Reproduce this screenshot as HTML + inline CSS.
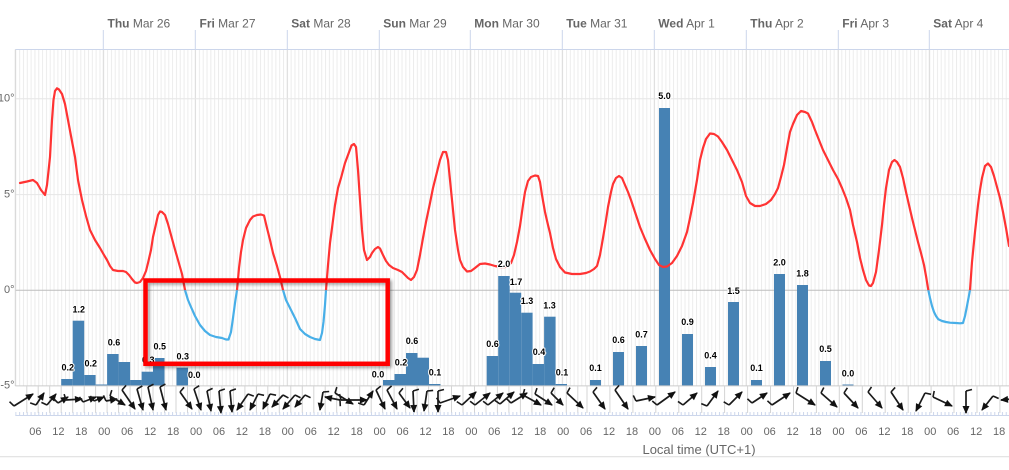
<!DOCTYPE html>
<html>
<head>
<meta charset="utf-8">
<style>
html,body{margin:0;padding:0;background:#fff;}
svg{display:block;}
.hl{font-family:"Liberation Sans",sans-serif;font-size:11px;fill:#666;text-anchor:middle;}
.dl{font-family:"Liberation Sans",sans-serif;font-size:12px;fill:#666;}
.dl tspan.b{font-weight:bold;}
.yl{font-family:"Liberation Sans",sans-serif;font-size:11px;fill:#666;text-anchor:end;}
.bl{font-family:"Liberation Sans",sans-serif;font-size:9px;font-weight:bold;fill:#000;text-anchor:middle;stroke:#fff;stroke-width:2px;paint-order:stroke;stroke-linejoin:round;}
.w line{stroke:#1a1a1a;stroke-width:1.7;marker-end:url(#ah);marker-start:url(#fe);}
</style>
</head>
<body>
<svg width="1009" height="470" viewBox="0 0 1009 470" xmlns="http://www.w3.org/2000/svg">
<defs>
  <pattern id="hg" patternUnits="userSpaceOnUse" x="11.5" y="0" width="3.824" height="10">
    <rect x="0" y="0" width="1" height="10" fill="#ececec"/>
  </pattern>
  <pattern id="tk" patternUnits="userSpaceOnUse" x="11.5" y="0" width="3.824" height="10">
    <rect x="0" y="0" width="1" height="10" fill="#ccd6eb"/>
  </pattern>
  <clipPath id="above"><rect x="0" y="0" width="1009" height="290.3"/></clipPath>
  <clipPath id="below"><rect x="0" y="290.3" width="1009" height="200"/></clipPath>
  <marker id="ah" markerWidth="9" markerHeight="9" refX="7" refY="3.5" orient="auto" markerUnits="userSpaceOnUse" style="overflow:visible">
    <path d="M0,0 L8,3.5 L0,7 Z" fill="#111"/>
  </marker>
  <marker id="fe" markerWidth="10" markerHeight="10" refX="5" refY="8" orient="auto" markerUnits="userSpaceOnUse" style="overflow:visible">
    <path d="M5,8 L3.5,2" stroke="#1a1a1a" stroke-width="1.6" fill="none"/>
  </marker>
  <filter id="sh" x="-10%" y="-10%" width="130%" height="140%">
    <feDropShadow dx="2" dy="2" stdDeviation="1.5" flood-color="#000" flood-opacity="0.35"/>
  </filter>
</defs>

<!-- header -->
<g stroke="#ccd6eb" stroke-width="1">
  <line x1="103.3" y1="30" x2="103.3" y2="49.5"/>
  <line x1="195.3" y1="30" x2="195.3" y2="49.5"/>
  <line x1="287.3" y1="30" x2="287.3" y2="49.5"/>
  <line x1="379.3" y1="30" x2="379.3" y2="49.5"/>
  <line x1="470.3" y1="30" x2="470.3" y2="49.5"/>
  <line x1="562.3" y1="30" x2="562.3" y2="49.5"/>
  <line x1="654.3" y1="30" x2="654.3" y2="49.5"/>
  <line x1="746.3" y1="30" x2="746.3" y2="49.5"/>
  <line x1="838.3" y1="30" x2="838.3" y2="49.5"/>
  <line x1="929.3" y1="30" x2="929.3" y2="49.5"/>
</g>
<text class="dl" x="107.5" y="27.3"><tspan class="b">Thu</tspan> Mar 26</text>
<text class="dl" x="199.5" y="27.3"><tspan class="b">Fri</tspan> Mar 27</text>
<text class="dl" x="291.3" y="27.3"><tspan class="b">Sat</tspan> Mar 28</text>
<text class="dl" x="383.3" y="27.3"><tspan class="b">Sun</tspan> Mar 29</text>
<text class="dl" x="474.3" y="27.3"><tspan class="b">Mon</tspan> Mar 30</text>
<text class="dl" x="566.3" y="27.3"><tspan class="b">Tue</tspan> Mar 31</text>
<text class="dl" x="658.3" y="27.3"><tspan class="b">Wed</tspan> Apr 1</text>
<text class="dl" x="750.3" y="27.3"><tspan class="b">Thu</tspan> Apr 2</text>
<text class="dl" x="842.3" y="27.3"><tspan class="b">Fri</tspan> Apr 3</text>
<text class="dl" x="933.3" y="27.3"><tspan class="b">Sat</tspan> Apr 4</text>

<!-- plot area grid -->
<rect x="15.3" y="49.5" width="994" height="336.2" fill="url(#hg)"/>
<g stroke="#dcdcdc" stroke-width="1">
  <line x1="103.3" y1="49.5" x2="103.3" y2="385.7"/>
  <line x1="195.3" y1="49.5" x2="195.3" y2="385.7"/>
  <line x1="287.3" y1="49.5" x2="287.3" y2="385.7"/>
  <line x1="379.3" y1="49.5" x2="379.3" y2="385.7"/>
  <line x1="470.3" y1="49.5" x2="470.3" y2="385.7"/>
  <line x1="562.3" y1="49.5" x2="562.3" y2="385.7"/>
  <line x1="654.3" y1="49.5" x2="654.3" y2="385.7"/>
  <line x1="746.3" y1="49.5" x2="746.3" y2="385.7"/>
  <line x1="838.3" y1="49.5" x2="838.3" y2="385.7"/>
  <line x1="929.3" y1="49.5" x2="929.3" y2="385.7"/>
</g>
<line x1="15.3" y1="98.8" x2="1009" y2="98.8" stroke="#e6e6e6" stroke-width="1"/>
<line x1="15.3" y1="194.6" x2="1009" y2="194.6" stroke="#e6e6e6" stroke-width="1"/>
<line x1="15.3" y1="290.3" x2="1009" y2="290.3" stroke="#bdbdbd" stroke-width="1"/>
<line x1="15.3" y1="49.5" x2="1009" y2="49.5" stroke="#ccd6eb" stroke-width="1"/>
<line x1="15.3" y1="49.5" x2="15.3" y2="386" stroke="#d6d6d6" stroke-width="1"/>

<!-- y labels -->
<text class="yl" x="14.5" y="101.5">10°</text>
<text class="yl" x="14.5" y="197.5">5°</text>
<text class="yl" x="14.5" y="292.8">0°</text>
<text class="yl" x="14.5" y="388.5">-5°</text>

<!-- precipitation bars -->
<g fill="#4682b4">
  <rect x="61.2" y="379" width="11.5" height="6.7"/>
  <rect x="72.7" y="320.7" width="11.5" height="65"/>
  <rect x="84.2" y="375" width="11.4" height="10.7"/>
  <rect x="95.6" y="384.5" width="11.5" height="1.2"/>
  <rect x="107.1" y="354" width="11.5" height="31.7"/>
  <rect x="118.6" y="362" width="11.5" height="23.7"/>
  <rect x="130.1" y="380" width="11.5" height="5.7"/>
  <rect x="141.6" y="371.7" width="11.4" height="14"/>
  <rect x="153" y="358" width="11.5" height="27.7"/>
  <rect x="176.5" y="367.7" width="11.5" height="18"/>
  <rect x="383" y="380" width="11.5" height="5.7"/>
  <rect x="394.5" y="374" width="11.5" height="11.7"/>
  <rect x="406" y="353" width="11.5" height="32.7"/>
  <rect x="417.5" y="357.7" width="11.5" height="28"/>
  <rect x="429" y="384" width="11.5" height="1.7"/>
  <rect x="486.7" y="356" width="11.5" height="29.7"/>
  <rect x="498.2" y="276" width="11.5" height="109.7"/>
  <rect x="509.7" y="292.7" width="11.5" height="93"/>
  <rect x="521.2" y="312.7" width="11.4" height="73"/>
  <rect x="532.6" y="364" width="11.5" height="21.7"/>
  <rect x="544.1" y="316.7" width="11.5" height="69"/>
  <rect x="555.6" y="384" width="11.4" height="1.7"/>
  <rect x="590" y="380" width="11" height="5.7"/>
  <rect x="613" y="352" width="11" height="33.7"/>
  <rect x="636" y="346" width="11" height="39.7"/>
  <rect x="659" y="108" width="11" height="277.7"/>
  <rect x="682" y="334" width="11" height="51.7"/>
  <rect x="705" y="367" width="11" height="18.7"/>
  <rect x="728" y="302" width="11" height="83.7"/>
  <rect x="751" y="380" width="11" height="5.7"/>
  <rect x="774" y="274" width="11" height="111.7"/>
  <rect x="797" y="285" width="11" height="100.7"/>
  <rect x="820" y="361" width="11" height="24.7"/>
  <rect x="842.5" y="384.5" width="11" height="1.2"/>
</g>
<line x1="15.3" y1="385.9" x2="1009" y2="385.9" stroke="#cccccc" stroke-width="1"/>

<!-- temperature -->
<g fill="none" stroke-width="2.2" stroke-linejoin="round" stroke-linecap="round">
<polyline clip-path="url(#above)" stroke="#ff3333" points="20,183 27,181.5 33,180 37,183 41,190 45,195 47,185 50,157 52,120 53.5,100 55,91 57,88.3 59,89.5 62,94 65,104 68,120 71,136 75,157 78,180 82,200 86,216 90,230 95,240 100,248 104,255 107,260 110,266 113,270 118,271 123,271 126,272 129,275 132,279 135,282.5 137,283 140,282 143,278 146,271 148,263 151,250 153,237 156,224 158,215 160,211.5 162,212 165,215 168,224 171,235 174,246 178,260 182,274 185,290 188,300 191,307 195,316 200,325 205,331 210,335 216,337 222,338 226,339.5 228.5,339.5 231,332 233,318 235,303 237,290 239,268 241,252 243,240 246,228 250,220 253,216.5 257,215 261,214.5 264,215.5 266.5,226 270,240 273,253 277,266 280,277 283,290 286,300 290,308 295,318 300,329 305,334 310,337 315,339 320,340 322,333 323.5,322 325,305 326,290 328,265 330,243 332,228 335,205 338,188 341,178 345,163 348,155 351.5,145.5 354,144 356,147 358,170 360,200 362,230 364,250 367,260 370,257 372,253 375,249 378,247 380,248.5 383,255 386,261 389,265 393,268 398,270 402,272 405,275 408,278 411,280 414,277 417,270 420,255 423,238 426,222 430,203 433,188 436.5,174 440,160 443,152 446,152 448,160 450,180 452,200 455,230 458,250 460,260 463,267 467,271.5 471,271 475,268 480,264 485,263.5 490,264.5 495,266 500,267 505,267 508,266 511,263 514,255 517,242 520,226 523,205 525,192 528,181 531,177 535,175.5 538,176 540,182 542,195 545,212 548,225 550,233 553,248 556,259 560,267 565,272.5 572,274 580,274 586,273 590,271.5 594,269 597,266 600,255 603,238 606,220 608,207 611,192 613,184 616,178 619,176 622,178 625,185 628,192 631,200 635,212 640,227 645,239 650,250 655,259 659,265 663,267 667,266.5 672,263 677,256 682,246 687,232 690,218 693,203 697,180 700,160 703,148 706,139 710,133.5 714,134 718,136.5 722,142 727,150 732,160 737,170 742,182 746,196 750,203 755,206 760,206 766,204 771,200 775,194 778,188 781,177 784,165 787,148 790,132 793,124 797,115 801,111 805,112 808,113.5 812,122 815,130 819,140 823,150 828,160 833,170 838,179 842,188 846,198 850,210 853,225 857,242 860,258 863,270 866,280 869,285.5 871,286 873,283 876,272 879,250 882,225 884,205 886,188 889,170 892,162 894.5,160 897,162 900,167 903,178 906,192 909,205 912,218 915,230 918,242 921,253 924,265 926,276 928.3,290 930,298 932,306 934,312 936,316 938.3,319.3 942,321 946,322 950,322.7 956,323 960,323.3 963,323 965,316 967,306 970,290 972,262 975,232 978,205 980,190 982,178 985,166 988,163.5 991,167 994,176 997,187 1000,198 1003,212 1006,228 1009,246"/>
<polyline clip-path="url(#below)" stroke="#48afe8" points="20,183 27,181.5 33,180 37,183 41,190 45,195 47,185 50,157 52,120 53.5,100 55,91 57,88.3 59,89.5 62,94 65,104 68,120 71,136 75,157 78,180 82,200 86,216 90,230 95,240 100,248 104,255 107,260 110,266 113,270 118,271 123,271 126,272 129,275 132,279 135,282.5 137,283 140,282 143,278 146,271 148,263 151,250 153,237 156,224 158,215 160,211.5 162,212 165,215 168,224 171,235 174,246 178,260 182,274 185,290 188,300 191,307 195,316 200,325 205,331 210,335 216,337 222,338 226,339.5 228.5,339.5 231,332 233,318 235,303 237,290 239,268 241,252 243,240 246,228 250,220 253,216.5 257,215 261,214.5 264,215.5 266.5,226 270,240 273,253 277,266 280,277 283,290 286,300 290,308 295,318 300,329 305,334 310,337 315,339 320,340 322,333 323.5,322 325,305 326,290 328,265 330,243 332,228 335,205 338,188 341,178 345,163 348,155 351.5,145.5 354,144 356,147 358,170 360,200 362,230 364,250 367,260 370,257 372,253 375,249 378,247 380,248.5 383,255 386,261 389,265 393,268 398,270 402,272 405,275 408,278 411,280 414,277 417,270 420,255 423,238 426,222 430,203 433,188 436.5,174 440,160 443,152 446,152 448,160 450,180 452,200 455,230 458,250 460,260 463,267 467,271.5 471,271 475,268 480,264 485,263.5 490,264.5 495,266 500,267 505,267 508,266 511,263 514,255 517,242 520,226 523,205 525,192 528,181 531,177 535,175.5 538,176 540,182 542,195 545,212 548,225 550,233 553,248 556,259 560,267 565,272.5 572,274 580,274 586,273 590,271.5 594,269 597,266 600,255 603,238 606,220 608,207 611,192 613,184 616,178 619,176 622,178 625,185 628,192 631,200 635,212 640,227 645,239 650,250 655,259 659,265 663,267 667,266.5 672,263 677,256 682,246 687,232 690,218 693,203 697,180 700,160 703,148 706,139 710,133.5 714,134 718,136.5 722,142 727,150 732,160 737,170 742,182 746,196 750,203 755,206 760,206 766,204 771,200 775,194 778,188 781,177 784,165 787,148 790,132 793,124 797,115 801,111 805,112 808,113.5 812,122 815,130 819,140 823,150 828,160 833,170 838,179 842,188 846,198 850,210 853,225 857,242 860,258 863,270 866,280 869,285.5 871,286 873,283 876,272 879,250 882,225 884,205 886,188 889,170 892,162 894.5,160 897,162 900,167 903,178 906,192 909,205 912,218 915,230 918,242 921,253 924,265 926,276 928.3,290 930,298 932,306 934,312 936,316 938.3,319.3 942,321 946,322 950,322.7 956,323 960,323.3 963,323 965,316 967,306 970,290 972,262 975,232 978,205 980,190 982,178 985,166 988,163.5 991,167 994,176 997,187 1000,198 1003,212 1006,228 1009,246"/>
</g>

<!-- bar labels -->
<g>
  <text class="bl" x="67.8" y="370.5">0.2</text>
  <text class="bl" x="78.8" y="312.5">1.2</text>
  <text class="bl" x="90.7" y="366.5">0.2</text>
  <text class="bl" x="114" y="345.5">0.6</text>
  <text class="bl" x="148.3" y="363">0.3</text>
  <text class="bl" x="159.7" y="349.5">0.5</text>
  <text class="bl" x="182.7" y="359.5">0.3</text>
  <text class="bl" x="194.2" y="378">0.0</text>
  <text class="bl" x="378" y="377.5">0.0</text>
  <text class="bl" x="401" y="365.5">0.2</text>
  <text class="bl" x="412" y="344">0.6</text>
  <text class="bl" x="435" y="375.5">0.1</text>
  <text class="bl" x="492.5" y="347">0.6</text>
  <text class="bl" x="504" y="267">2.0</text>
  <text class="bl" x="516" y="285">1.7</text>
  <text class="bl" x="527" y="304">1.3</text>
  <text class="bl" x="539" y="355">0.4</text>
  <text class="bl" x="549.5" y="308.5">1.3</text>
  <text class="bl" x="562" y="375.5">0.1</text>
  <text class="bl" x="595.5" y="371">0.1</text>
  <text class="bl" x="618.5" y="343">0.6</text>
  <text class="bl" x="641.5" y="337.5">0.7</text>
  <text class="bl" x="664.5" y="99">5.0</text>
  <text class="bl" x="687.5" y="325">0.9</text>
  <text class="bl" x="710.5" y="358.5">0.4</text>
  <text class="bl" x="733.5" y="294">1.5</text>
  <text class="bl" x="756.5" y="371">0.1</text>
  <text class="bl" x="779.5" y="265.5">2.0</text>
  <text class="bl" x="802.5" y="276.5">1.8</text>
  <text class="bl" x="825.5" y="352">0.5</text>
  <text class="bl" x="848" y="376.5">0.0</text>
</g>

<!-- wind row separators -->
<g stroke="#d4d4d4" stroke-width="1">
  <line x1="26.8" y1="386" x2="26.8" y2="413"/><line x1="38.2" y1="386" x2="38.2" y2="413"/><line x1="49.7" y1="386" x2="49.7" y2="413"/><line x1="61.2" y1="386" x2="61.2" y2="413"/><line x1="72.7" y1="386" x2="72.7" y2="413"/><line x1="84.2" y1="386" x2="84.2" y2="413"/><line x1="95.6" y1="386" x2="95.6" y2="413"/><line x1="107.1" y1="386" x2="107.1" y2="413"/><line x1="118.6" y1="386" x2="118.6" y2="413"/><line x1="130.1" y1="386" x2="130.1" y2="413"/><line x1="141.6" y1="386" x2="141.6" y2="413"/><line x1="153" y1="386" x2="153" y2="413"/><line x1="164.5" y1="386" x2="164.5" y2="413"/><line x1="176" y1="386" x2="176" y2="413"/><line x1="187.5" y1="386" x2="187.5" y2="413"/><line x1="199" y1="386" x2="199" y2="413"/><line x1="210.4" y1="386" x2="210.4" y2="413"/><line x1="221.9" y1="386" x2="221.9" y2="413"/><line x1="233.4" y1="386" x2="233.4" y2="413"/><line x1="244.9" y1="386" x2="244.9" y2="413"/><line x1="256.4" y1="386" x2="256.4" y2="413"/><line x1="267.8" y1="386" x2="267.8" y2="413"/><line x1="279.3" y1="386" x2="279.3" y2="413"/><line x1="290.8" y1="386" x2="290.8" y2="413"/><line x1="302.3" y1="386" x2="302.3" y2="413"/><line x1="313.8" y1="386" x2="313.8" y2="413"/><line x1="325.2" y1="386" x2="325.2" y2="413"/><line x1="336.7" y1="386" x2="336.7" y2="413"/><line x1="348.2" y1="386" x2="348.2" y2="413"/><line x1="359.7" y1="386" x2="359.7" y2="413"/><line x1="371.2" y1="386" x2="371.2" y2="413"/><line x1="382.6" y1="386" x2="382.6" y2="413"/><line x1="394.1" y1="386" x2="394.1" y2="413"/><line x1="405.6" y1="386" x2="405.6" y2="413"/><line x1="417.1" y1="386" x2="417.1" y2="413"/><line x1="428.6" y1="386" x2="428.6" y2="413"/><line x1="440" y1="386" x2="440" y2="413"/><line x1="451.5" y1="386" x2="451.5" y2="413"/><line x1="463" y1="386" x2="463" y2="413"/><line x1="474.5" y1="386" x2="474.5" y2="413"/><line x1="486" y1="386" x2="486" y2="413"/><line x1="497.4" y1="386" x2="497.4" y2="413"/><line x1="508.9" y1="386" x2="508.9" y2="413"/><line x1="520.4" y1="386" x2="520.4" y2="413"/><line x1="531.9" y1="386" x2="531.9" y2="413"/><line x1="543.4" y1="386" x2="543.4" y2="413"/><line x1="554.8" y1="386" x2="554.8" y2="413"/><line x1="566.3" y1="386" x2="566.3" y2="413"/><line x1="577.8" y1="386" x2="577.8" y2="413"/>
  <line x1="587" y1="386" x2="587" y2="413"/><line x1="609.9" y1="386" x2="609.9" y2="413"/><line x1="632.9" y1="386" x2="632.9" y2="413"/><line x1="655.8" y1="386" x2="655.8" y2="413"/><line x1="678.8" y1="386" x2="678.8" y2="413"/><line x1="701.7" y1="386" x2="701.7" y2="413"/><line x1="724.6" y1="386" x2="724.6" y2="413"/><line x1="747.6" y1="386" x2="747.6" y2="413"/><line x1="770.5" y1="386" x2="770.5" y2="413"/><line x1="793.5" y1="386" x2="793.5" y2="413"/><line x1="816.4" y1="386" x2="816.4" y2="413"/><line x1="839.3" y1="386" x2="839.3" y2="413"/><line x1="862.3" y1="386" x2="862.3" y2="413"/><line x1="885.2" y1="386" x2="885.2" y2="413"/><line x1="908.2" y1="386" x2="908.2" y2="413"/><line x1="931.1" y1="386" x2="931.1" y2="413"/><line x1="954" y1="386" x2="954" y2="413"/><line x1="977" y1="386" x2="977" y2="413"/><line x1="999.9" y1="386" x2="999.9" y2="413"/>
</g>

<!-- wind arrows -->
<g class="w">
  <line x1="14" y1="406" x2="33" y2="394"/>
  <line x1="36" y1="405" x2="44" y2="393"/>
  <line x1="47" y1="405" x2="56" y2="394"/>
  <line x1="58" y1="403" x2="68" y2="397"/>
  <line x1="66" y1="400" x2="82" y2="399"/>
  <line x1="83" y1="402" x2="96" y2="397"/>
  <line x1="94" y1="401" x2="104" y2="397"/>
  <line x1="106" y1="401" x2="117" y2="399"/>
  <line x1="110" y1="396" x2="125" y2="405"/>
  <line x1="122" y1="390" x2="135" y2="409"/>
  <line x1="137" y1="389" x2="143" y2="410"/>
  <line x1="148" y1="387" x2="153" y2="410"/>
  <line x1="160" y1="387" x2="166" y2="410"/>
  <line x1="180" y1="392" x2="192" y2="409"/>
  <line x1="194" y1="389" x2="201" y2="410"/>
  <line x1="207" y1="391" x2="211" y2="411"/>
  <line x1="219" y1="391" x2="221" y2="413"/>
  <line x1="230" y1="391" x2="232" y2="412"/>
  <line x1="248" y1="394" x2="237" y2="410"/>
  <line x1="258" y1="394" x2="250" y2="410"/>
  <line x1="270" y1="394" x2="263" y2="409"/>
  <line x1="283" y1="395" x2="272" y2="407"/>
  <line x1="295" y1="395" x2="283" y2="409"/>
  <line x1="305" y1="395" x2="295" y2="407"/>
  <line x1="323" y1="392" x2="320" y2="410"/>
  <line x1="340" y1="400" x2="325" y2="397"/>
  <line x1="335" y1="393" x2="353" y2="404"/>
  <line x1="341" y1="400" x2="367" y2="400"/>
  <line x1="364" y1="405" x2="373" y2="391"/>
  <line x1="376" y1="390" x2="385" y2="409"/>
  <line x1="387" y1="390" x2="397" y2="409"/>
  <line x1="399" y1="393" x2="410" y2="408"/>
  <line x1="413" y1="391" x2="414" y2="412"/>
  <line x1="427" y1="391" x2="424" y2="411"/>
  <line x1="438" y1="391" x2="438" y2="412"/>
  <line x1="440" y1="403" x2="460" y2="396"/>
  <line x1="462" y1="405" x2="476" y2="392"/>
  <line x1="475" y1="405" x2="490" y2="393"/>
  <line x1="488" y1="405" x2="503" y2="393"/>
  <line x1="500" y1="404" x2="514" y2="392"/>
  <line x1="511" y1="403" x2="527" y2="393"/>
  <line x1="523" y1="395" x2="541" y2="405"/>
  <line x1="535" y1="394" x2="552" y2="405"/>
  <line x1="551" y1="393" x2="563" y2="405"/>
  <line x1="567" y1="393" x2="583" y2="408"/>
  <line x1="593" y1="392" x2="605" y2="409"/>
  <line x1="615" y1="390" x2="628" y2="409"/>
  <line x1="636" y1="401" x2="655" y2="397"/>
  <line x1="657" y1="405" x2="675" y2="392"/>
  <line x1="683" y1="405" x2="697" y2="393"/>
  <line x1="707" y1="406" x2="718" y2="391"/>
  <line x1="729" y1="405" x2="742" y2="392"/>
  <line x1="752" y1="403" x2="767" y2="393"/>
  <line x1="772" y1="405" x2="790" y2="393"/>
  <line x1="796" y1="393" x2="815" y2="405"/>
  <line x1="821" y1="393" x2="837" y2="407"/>
  <line x1="844" y1="393" x2="858" y2="408"/>
  <line x1="868" y1="392" x2="882" y2="408"/>
  <line x1="891" y1="392" x2="903" y2="410"/>
  <line x1="925" y1="393" x2="916" y2="411"/>
  <line x1="933" y1="397" x2="952" y2="406"/>
  <line x1="966" y1="391" x2="966" y2="413"/>
  <line x1="993" y1="396" x2="982" y2="410"/>
  <line x1="1012" y1="399" x2="1001" y2="400"/>
</g>

<!-- bottom axis -->
<rect x="15.3" y="412" width="994" height="3" fill="url(#tk)"/>
<line x1="15.3" y1="415.5" x2="1009" y2="415.5" stroke="#ccd6eb" stroke-width="1"/>

<g class="hl">
  <text x="35.4" y="435">06</text><text x="58.4" y="435">12</text><text x="81.3" y="435">18</text><text x="104.3" y="435">00</text>
  <text x="127.2" y="435">06</text><text x="150.2" y="435">12</text><text x="173.1" y="435">18</text><text x="196.1" y="435">00</text>
  <text x="219" y="435">06</text><text x="241.9" y="435">12</text><text x="264.9" y="435">18</text><text x="287.8" y="435">00</text>
  <text x="310.8" y="435">06</text><text x="333.7" y="435">12</text><text x="356.7" y="435">18</text><text x="379.6" y="435">00</text>
  <text x="402.6" y="435">06</text><text x="425.5" y="435">12</text><text x="448.4" y="435">18</text><text x="471.4" y="435">00</text>
  <text x="494.3" y="435">06</text><text x="517.3" y="435">12</text><text x="540.2" y="435">18</text><text x="563.2" y="435">00</text>
  <text x="586.1" y="435">06</text><text x="609" y="435">12</text><text x="632" y="435">18</text><text x="654.9" y="435">00</text>
  <text x="677.9" y="435">06</text><text x="700.8" y="435">12</text><text x="723.8" y="435">18</text><text x="746.7" y="435">00</text>
  <text x="769.7" y="435">06</text><text x="792.6" y="435">12</text><text x="815.5" y="435">18</text><text x="838.5" y="435">00</text>
  <text x="861.4" y="435">06</text><text x="884.4" y="435">12</text><text x="907.3" y="435">18</text><text x="930.3" y="435">00</text>
  <text x="953.2" y="435">06</text><text x="976.2" y="435">12</text><text x="999.1" y="435">18</text>
</g>
<text x="699" y="454" style="font-family:'Liberation Sans',sans-serif;font-size:13px;fill:#666;text-anchor:middle;">Local time (UTC+1)</text>
<line x1="0" y1="456.7" x2="1009" y2="456.7" stroke="#e0e0e0" stroke-width="1.2"/>

<!-- annotation rectangle -->
<rect x="145.5" y="280.5" width="242.2" height="83.3" fill="none" stroke="#ff0000" stroke-width="4.5" filter="url(#sh)"/>
</svg>
</body>
</html>
